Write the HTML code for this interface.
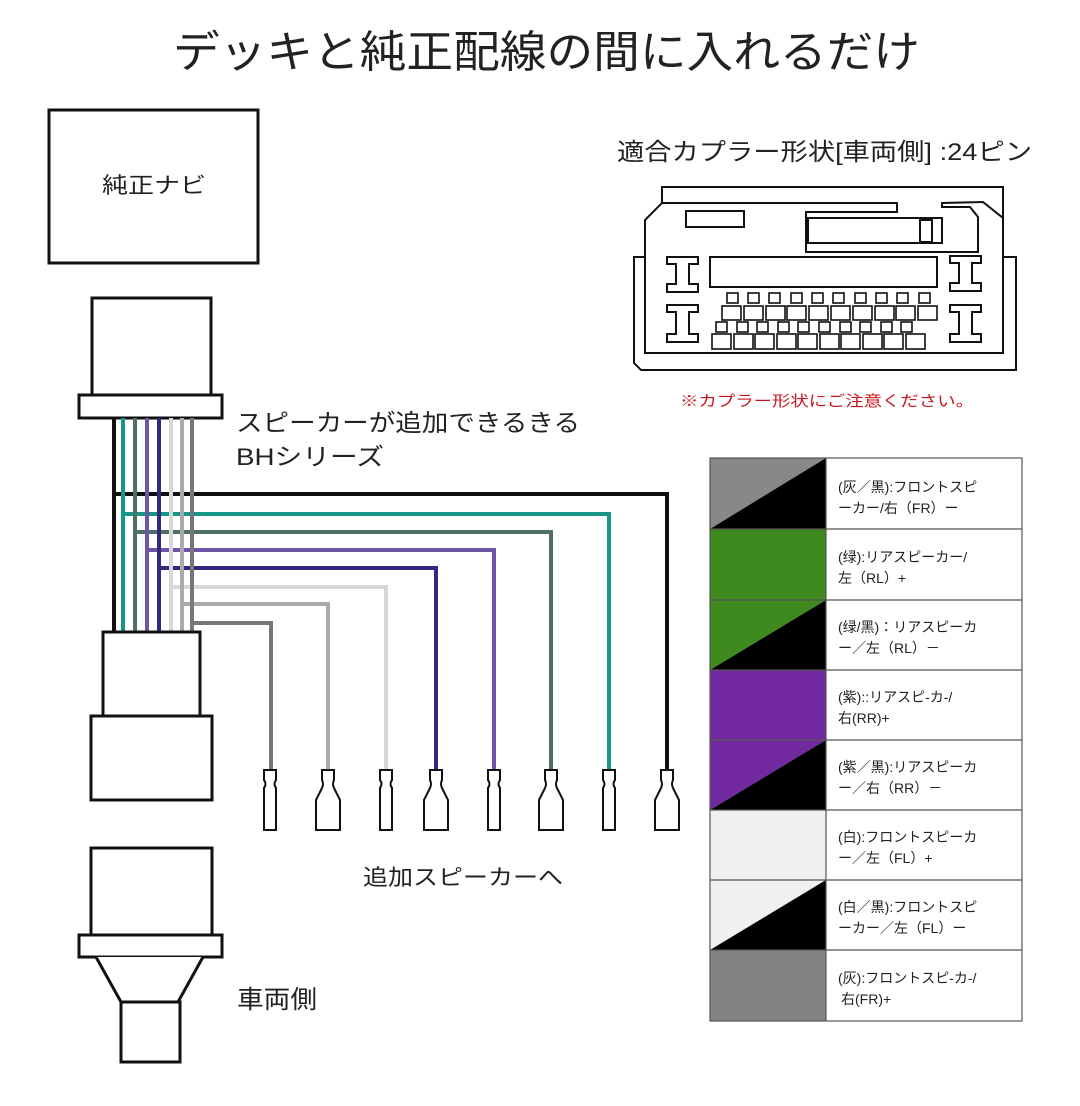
<!DOCTYPE html>
<html><head><meta charset="utf-8"><style>
html,body{margin:0;padding:0;background:#fff;width:1080px;height:1106px;overflow:hidden}
svg{display:block}
text{font-family:"Liberation Sans","Noto Sans CJK JP",sans-serif;fill:#222}
</style></head><body>
<svg width="1080" height="1106" viewBox="0 0 1080 1106" xmlns="http://www.w3.org/2000/svg">
<text x="173" y="67" font-size="44" textLength="747" lengthAdjust="spacingAndGlyphs">デッキと純正配線の間に入れるだけ</text>

<rect x="49" y="110" width="209" height="153" fill="#fff" stroke="#111" stroke-width="3"/>
<text x="102" y="193" font-size="22" textLength="104" lengthAdjust="spacingAndGlyphs">純正ナビ</text>

<rect x="92" y="298" width="119" height="97" fill="#fff" stroke="#111" stroke-width="3"/>
<rect x="79" y="395" width="143" height="23" fill="#fff" stroke="#111" stroke-width="3"/>

<text x="236" y="431" font-size="24" textLength="344" lengthAdjust="spacingAndGlyphs">スピーカーが追加できるきる</text>
<text x="236" y="465" font-size="24" textLength="148" lengthAdjust="spacingAndGlyphs">BHシリーズ</text>

<g fill="none" stroke-width="4">
<path d="M114 418 V632 M114 494 H667 V770" stroke="#111"/>
<path d="M123 418 V632 M123 514 H609 V770" stroke="#17968a"/>
<path d="M135 418 V632 M135 532 H551 V770" stroke="#4d6f66"/>
<path d="M147 418 V632 M147 550 H494 V770" stroke="#6e55a8"/>
<path d="M159 418 V632 M159 568 H436 V770" stroke="#302a7e"/>
<path d="M171 418 V632 M171 587 H386 V770" stroke="#d8d8d8"/>
<path d="M182 418 V632 M182 604 H328 V770" stroke="#aaaaaa"/>
<path d="M192 418 V632 M192 623 H271 V770" stroke="#777"/>
</g>

<g fill="#fff" stroke="#111" stroke-width="2">
<path d="M264 770 h12 v10 q-3 4 0 8 v42 h-12 v-42 q3 -4 0 -8 z"/>
<path d="M322 770 h12 v10 q-2 4 0 8 l6 12 v30 h-24 v-30 l6 -12 q2 -4 0 -8 z"/>
<path d="M380 770 h12 v10 q-3 4 0 8 v42 h-12 v-42 q3 -4 0 -8 z"/>
<path d="M430 770 h12 v10 q-2 4 0 8 l6 12 v30 h-24 v-30 l6 -12 q2 -4 0 -8 z"/>
<path d="M488 770 h12 v10 q-3 4 0 8 v42 h-12 v-42 q3 -4 0 -8 z"/>
<path d="M545 770 h12 v10 q-2 4 0 8 l6 12 v30 h-24 v-30 l6 -12 q2 -4 0 -8 z"/>
<path d="M603 770 h12 v10 q-3 4 0 8 v42 h-12 v-42 q3 -4 0 -8 z"/>
<path d="M661 770 h12 v10 q-2 4 0 8 l6 12 v30 h-24 v-30 l6 -12 q2 -4 0 -8 z"/>
</g>
<text x="363" y="885" font-size="22" textLength="200" lengthAdjust="spacingAndGlyphs">追加スピーカーへ</text>

<rect x="103" y="632" width="97" height="84" fill="#fff" stroke="#111" stroke-width="3"/>
<rect x="91" y="716" width="121" height="84" fill="#fff" stroke="#111" stroke-width="3"/>

<rect x="91" y="848" width="121" height="87" fill="#fff" stroke="#111" stroke-width="3"/>
<rect x="79" y="935" width="143" height="22" fill="#fff" stroke="#111" stroke-width="3"/>
<path d="M96 957 L121 1002 L178 1002 L203 957" fill="#fff" stroke="#111" stroke-width="3"/>
<rect x="121" y="1002" width="59" height="60" fill="#fff" stroke="#111" stroke-width="3"/>
<text x="237" y="1008" font-size="25" textLength="80" lengthAdjust="spacingAndGlyphs">車両側</text>

<text x="617" y="160" font-size="24" textLength="415" lengthAdjust="spacingAndGlyphs">適合カプラー形状[車両側] :24ピン</text>
<g fill="none" stroke="#111" stroke-width="2">
<path d="M634 257 L645 257 L645 220 L662 203 L662 187 L1003 187 L1003 257 L1016 257 L1016 370 L641 370 L634 363 Z"/>
<path d="M645 220 L645 353 L1003 353 L1003 218 L983 202 L942 203 L942 207 L970 207 L978 217 L978 252 L806 252 L806 212 L897 212 L897 203 L662 203"/>
<rect x="808" y="218" width="134" height="25"/>
<rect x="920" y="220" width="12" height="22"/>
<rect x="686" y="211" width="58" height="16"/>
<rect x="710" y="257" width="227" height="30"/>
<path d="M667 257 h31 v7 h-9 v20 h9 v8 h-31 v-8 h9 v-20 h-9 z"/>
<path d="M667 305 h31 v7 h-9 v22 h9 v8 h-31 v-8 h9 v-22 h-9 z"/>
<path d="M950 256 h31 v7 h-9 v20 h9 v8 h-31 v-8 h9 v-20 h-9 z"/>
<path d="M950 305 h31 v7 h-9 v22 h9 v8 h-31 v-8 h9 v-22 h-9 z"/>
</g>
<g fill="none" stroke="#111" stroke-width="1.6">
<rect x="727" y="293" width="11" height="10"/><rect x="748" y="293" width="11" height="10"/><rect x="769" y="293" width="11" height="10"/><rect x="791" y="293" width="11" height="10"/><rect x="812" y="293" width="11" height="10"/><rect x="833" y="293" width="11" height="10"/><rect x="855" y="293" width="11" height="10"/><rect x="876" y="293" width="11" height="10"/><rect x="897" y="293" width="11" height="10"/><rect x="919" y="293" width="11" height="10"/>
<rect x="722" y="306" width="19" height="14"/><rect x="744" y="306" width="19" height="14"/><rect x="766" y="306" width="19" height="14"/><rect x="787" y="306" width="19" height="14"/><rect x="809" y="306" width="19" height="14"/><rect x="831" y="306" width="19" height="14"/><rect x="853" y="306" width="19" height="14"/><rect x="875" y="306" width="19" height="14"/><rect x="896" y="306" width="19" height="14"/><rect x="918" y="306" width="19" height="14"/>
<rect x="716" y="322" width="11" height="10"/><rect x="737" y="322" width="11" height="10"/><rect x="757" y="322" width="11" height="10"/><rect x="778" y="322" width="11" height="10"/><rect x="798" y="322" width="11" height="10"/><rect x="819" y="322" width="11" height="10"/><rect x="840" y="322" width="11" height="10"/><rect x="860" y="322" width="11" height="10"/><rect x="881" y="322" width="11" height="10"/><rect x="901" y="322" width="11" height="10"/>
<rect x="712" y="334" width="19" height="15"/><rect x="734" y="334" width="19" height="15"/><rect x="755" y="334" width="19" height="15"/><rect x="777" y="334" width="19" height="15"/><rect x="798" y="334" width="19" height="15"/><rect x="820" y="334" width="19" height="15"/><rect x="841" y="334" width="19" height="15"/><rect x="863" y="334" width="19" height="15"/><rect x="884" y="334" width="19" height="15"/><rect x="906" y="334" width="19" height="15"/>
</g>
<text x="680" y="406" font-size="15" style="fill:#c8161d" textLength="294" lengthAdjust="spacingAndGlyphs">※カプラー形状にご注意ください。</text>

<g>
<polygon points="710,458 826,458 710,529" fill="#888"/><polygon points="826,458 826,529 710,529" fill="#000"/>
<rect x="710" y="529" width="116" height="71" fill="#3f8a1e"/>
<polygon points="710,600 826,600 710,670" fill="#3f8a1e"/><polygon points="826,600 826,670 710,670" fill="#000"/>
<rect x="710" y="670" width="116" height="70" fill="#7229a0"/>
<polygon points="710,740 826,740 710,810" fill="#7229a0"/><polygon points="826,740 826,810 710,810" fill="#000"/>
<rect x="710" y="810" width="116" height="70" fill="#f0f0f0"/>
<polygon points="710,880 826,880 710,950" fill="#f0f0f0"/><polygon points="826,880 826,950 710,950" fill="#000"/>
<rect x="710" y="950" width="116" height="71" fill="#838383"/>
</g>
<g fill="none" stroke="#555" stroke-width="1.2">
<rect x="710" y="458" width="312" height="563"/>
<line x1="826" y1="458" x2="826" y2="1021"/>
<path d="M710 529 H1022 M710 600 H1022 M710 670 H1022 M710 740 H1022 M710 810 H1022 M710 880 H1022 M710 950 H1022"/>
</g>
<g font-size="14">
<text x="838" y="492">(灰／黒):フロントスピ</text><text x="838" y="513">ーカー/右（FR）ー</text>
<text x="838" y="562">(绿):リアスピーカー/</text><text x="838" y="583">左（RL）+</text>
<text x="838" y="632">(绿/黑)：リアスピーカ</text><text x="838" y="653">ー／左（RL）－</text>
<text x="838" y="702">(紫)::リアスピ-カ-/</text><text x="838" y="723">右(RR)+</text>
<text x="838" y="772">(紫／黒):リアスピーカ</text><text x="838" y="793">ー／右（RR）－</text>
<text x="838" y="842">(白):フロントスピーカ</text><text x="838" y="863">ー／左（FL）+</text>
<text x="838" y="912">(白／黒):フロントスピ</text><text x="838" y="933">ーカー／左（FL）ー</text>
<text x="838" y="983">(灰):フロントスピ-カ-/</text><text x="841" y="1004">右(FR)+</text>
</g>
</svg>
</body></html>
